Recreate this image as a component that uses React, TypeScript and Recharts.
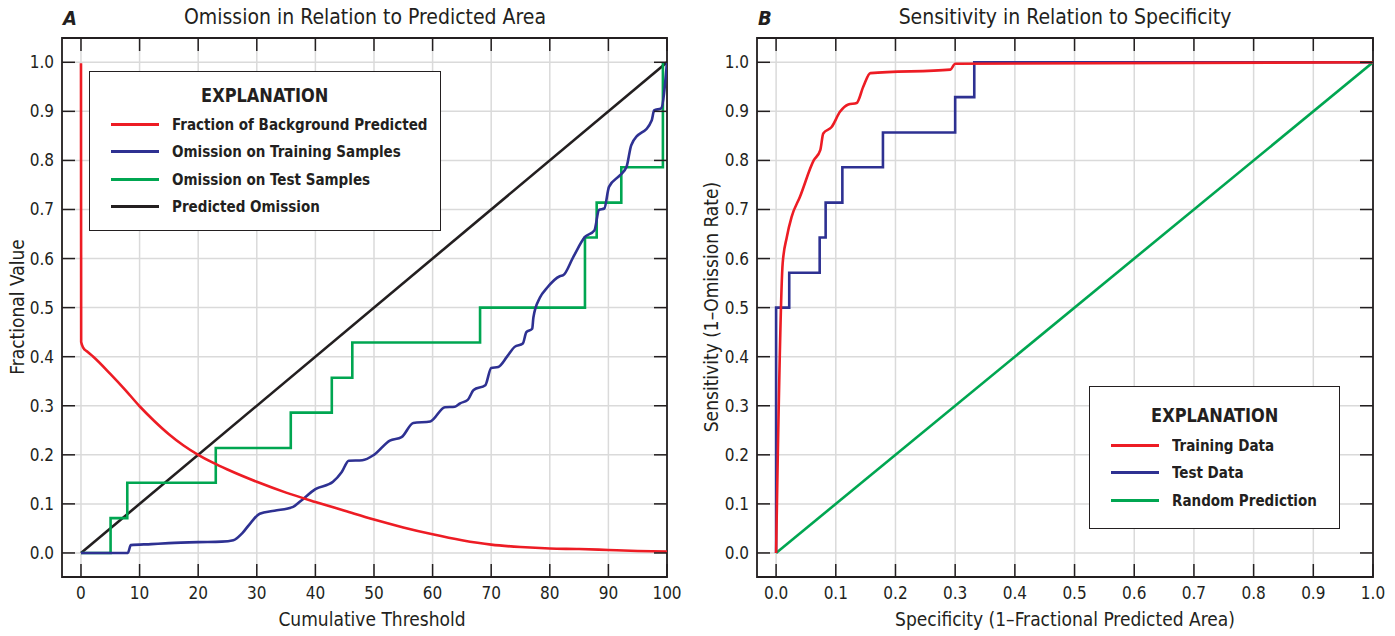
import React from 'react';
import { LineChart, Line, XAxis, YAxis, CartesianGrid, ReferenceArea } from 'recharts';

// Panel A: omission vs. cumulative threshold
const thresholdTicks = [0, 10, 20, 30, 40, 50, 60, 70, 80, 90, 100];
const fractionTicks = [0, 0.1, 0.2, 0.3, 0.4, 0.5, 0.6, 0.7, 0.8, 0.9, 1.0];

const backgroundPredicted: [number, number][] = [
  [0, 0.998], [0.03, 0.43], [0.4, 0.418], [1, 0.411], [2.1, 0.4], [5, 0.365],
  [7.5, 0.333], [10, 0.299], [12.5, 0.269], [15, 0.242], [17.5, 0.219], [20, 0.2],
  [22.5, 0.184], [25, 0.17], [30, 0.145], [35, 0.123], [40, 0.104], [45, 0.086],
  [50, 0.068], [55, 0.052], [60, 0.038], [65, 0.026], [70, 0.017], [75, 0.012],
  [80, 0.009], [85, 0.008], [90, 0.006], [95, 0.004], [100, 0.003],
];

const trainingOmission: [number, number][] = [
  [0, 0], [8, 0], [8.5, 0.016], [12, 0.018], [15, 0.02], [20, 0.022], [24, 0.023],
  [26, 0.026], [27.5, 0.04], [29, 0.062], [30.5, 0.08], [33, 0.086], [36.2, 0.094],
  [37.5, 0.106], [40, 0.13], [43, 0.145], [44.5, 0.165], [45.7, 0.188], [48, 0.189],
  [50, 0.2], [52.7, 0.229], [54.7, 0.236], [56.7, 0.265], [59.6, 0.268], [62.1, 0.297],
  [63.8, 0.298], [64.7, 0.305], [66, 0.312], [67, 0.332], [69, 0.342], [70, 0.377],
  [71.2, 0.379], [72.7, 0.4], [74, 0.42], [75.4, 0.427], [76, 0.45], [77, 0.457],
  [77.2, 0.48], [78.3, 0.52], [79.5, 0.54], [81.7, 0.564], [82.3, 0.566], [84, 0.603],
  [86, 0.644], [87.6, 0.657], [88.4, 0.699], [89.3, 0.702], [90.1, 0.746], [92, 0.77],
  [93.1, 0.787], [93.9, 0.831], [97.4, 0.882], [97.8, 0.902], [99, 0.906], [100, 1.0],
];

// step positions: value changes to y at x
const testOmission: [number, number][] = [
  [0, 0], [5.05, 0.071], [7.9, 0.143], [23, 0.214], [35.8, 0.286], [42.8, 0.357],
  [46.3, 0.429], [68.1, 0.5], [86, 0.643], [88, 0.714], [92.2, 0.786], [99.3, 1.0],
];

const predictedOmission: [number, number][] = [[0, 0], [100, 1]];

// Panel B: ROC
const specificityTicks = [0, 0.1, 0.2, 0.3, 0.4, 0.5, 0.6, 0.7, 0.8, 0.9, 1.0];

const trainingRoc: [number, number][] = [
  [0, 0], [0.011, 0.59], [0.018, 0.644], [0.026, 0.685], [0.04, 0.726], [0.063, 0.8],
  [0.074, 0.821], [0.079, 0.855], [0.093, 0.868], [0.107, 0.899], [0.121, 0.914],
  [0.135, 0.917], [0.146, 0.95], [0.158, 0.978], [0.292, 0.985], [0.3, 0.997], [1.0, 1.0],
];

const testRoc: [number, number][] = [
  [0, 0], [0, 0.5], [0.022, 0.571], [0.073, 0.643], [0.083, 0.714], [0.111, 0.786],
  [0.179, 0.857], [0.3, 0.929], [0.332, 1.0], [1.0, 1.0],
];

const randomRoc: [number, number][] = [[0, 0], [1, 1]];

const RED = '#ed1c24';
const BLUE = '#2e3192';
const GREEN = '#00a651';
const BLACK = '#231f20';
const GRID = '#dadada';
const INK = '#231f20';
const FONT = "'Liberation Sans Narrow', 'Arial Narrow', 'DejaVu Sans Condensed', sans-serif";

type Curve = 'monotone' | 'linear' | 'stepAfter';
type Series = { name: string; color: string; data: [number, number][]; curve: Curve };

const panelASeries: Series[] = [
  { name: 'Fraction of Background Predicted', color: RED, data: backgroundPredicted, curve: 'monotone' },
  { name: 'Omission on Training Samples', color: BLUE, data: trainingOmission, curve: 'monotone' },
  { name: 'Omission on Test Samples', color: GREEN, data: testOmission, curve: 'stepAfter' },
  { name: 'Predicted Omission', color: BLACK, data: predictedOmission, curve: 'linear' },
];
const panelADrawOrder = [3, 2, 1, 0];

const panelBSeries: Series[] = [
  { name: 'Training Data', color: RED, data: trainingRoc, curve: 'monotone' },
  { name: 'Test Data', color: BLUE, data: testRoc, curve: 'stepAfter' },
  { name: 'Random Prediction', color: GREEN, data: randomRoc, curve: 'linear' },
];
const panelBDrawOrder = [2, 1, 0];

const toPoints = (pairs: [number, number][]) => pairs.map(([x, y]) => ({ x, y }));

// chart geometry (plot area in chart coords)
const CH_W = 700;
const CH_H = 636;
const TOP = 38;
const BOTTOM = 577;
const TICK = 13;

type Geo = { left: number; right: number };

const makeXTick = (g: Geo, fmt: (v: number) => string) => (props: any) => {
  const { x, payload } = props;
  return (
    <g>
      <line x1={x} x2={x} y1={BOTTOM} y2={BOTTOM - TICK} stroke={INK} strokeWidth={1.5} />
      <line x1={x} x2={x} y1={TOP} y2={TOP + TICK} stroke={INK} strokeWidth={1.5} />
      <text x={x} y={BOTTOM + 16} textAnchor="middle" dominantBaseline="central"
        fontFamily={FONT} fontSize={17} fill={INK}>{fmt(payload.value)}</text>
    </g>
  );
};

const makeYTick = (g: Geo) => (props: any) => {
  const { y, payload } = props;
  return (
    <g>
      <line x1={g.left} x2={g.left + TICK} y1={y} y2={y} stroke={INK} strokeWidth={1.5} />
      <line x1={g.right - TICK} x2={g.right} y1={y} y2={y} stroke={INK} strokeWidth={1.5} />
      <text x={g.left - 8} y={y} textAnchor="end" dominantBaseline="central"
        fontFamily={FONT} fontSize={17} fill={INK}>{payload.value.toFixed(1)}</text>
    </g>
  );
};

const LegendBox: React.FC<{
  series: Series[]; style: React.CSSProperties; titleTop: number; titleGap: number;
}> = ({ series, style, titleTop, titleGap }) => (
  <div style={{
    position: 'absolute', background: '#fff', border: `1.5px solid ${INK}`, boxSizing: 'border-box',
    fontFamily: FONT, fontWeight: 700, color: INK, ...style,
  }}>
    <div style={{ textAlign: 'center', marginTop: titleTop, marginBottom: titleGap, height: 24 }}>
      <span style={{ display: 'inline-block', fontSize: 20, lineHeight: '24px', transform: 'scaleX(0.9)' }}>EXPLANATION</span>
    </div>
    {series.map((s) => (
      <div key={s.name} style={{ display: 'flex', alignItems: 'center', height: 27.5, paddingLeft: 21, whiteSpace: 'nowrap' }}>
        <span style={{ display: 'inline-block', flex: 'none', width: 48, height: 3, background: s.color, marginRight: 13 }} />
        <span style={{ display: 'inline-block', fontSize: 16.5, transform: 'scaleX(0.91)', transformOrigin: 'left center' }}>{s.name}</span>
      </div>
    ))}
  </div>
);

const textStyle: React.CSSProperties = { position: 'absolute', fontFamily: FONT, color: INK, whiteSpace: 'nowrap' };

const Panel: React.FC<{
  left: number; geo: Geo; xDomain: [number, number]; xTicks: number[]; series: Series[]; order: number[];
  fmtX: (v: number) => string;
}> = ({ left, geo, xDomain, xTicks, series, order, fmtX }) => (
  <div style={{ position: 'absolute', left, top: 0 }}>
    <LineChart width={CH_W} height={CH_H} margin={{ top: TOP, right: CH_W - geo.right, left: 0, bottom: 0 }}>
      <CartesianGrid stroke={GRID} strokeWidth={1.5} />
      <XAxis type="number" dataKey="x" domain={xDomain} ticks={xTicks} height={CH_H - BOTTOM}
        axisLine={false} tickLine={false} tick={makeXTick(geo, fmtX)} interval={0} allowDataOverflow />
      <YAxis type="number" domain={[-0.049, 1.0495]} ticks={fractionTicks} width={geo.left}
        axisLine={false} tickLine={false} tick={makeYTick(geo)} interval={0} allowDataOverflow />
      {order.map((i) => {
        const s = series[i];
        return (
          <Line key={s.name} data={toPoints(s.data)} dataKey="y" name={s.name} type={s.curve}
            stroke={s.color} strokeWidth={2.6} dot={false} activeDot={false} isAnimationActive={false} />
        );
      })}
      <ReferenceArea x1={xDomain[0]} x2={xDomain[1]} y1={-0.049} y2={1.0495} fill="none"
        stroke={INK} strokeWidth={1.8} ifOverflow="visible" />
    </LineChart>
  </div>
);

export default function App() {
  return (
    <div style={{ position: 'absolute', left: 0, top: 0, width: 1395, height: 636, background: '#fff', overflow: 'hidden' }}>
      <Panel left={0} geo={{ left: 62, right: 667 }} xDomain={[-3.24, 100]} xTicks={thresholdTicks}
        series={panelASeries} order={panelADrawOrder} fmtX={(v) => String(v)} />
      <Panel left={695} geo={{ left: 62, right: 678 }} xDomain={[-0.032, 1]} xTicks={specificityTicks}
        series={panelBSeries} order={panelBDrawOrder} fmtX={(v) => v.toFixed(1)} />

      <div style={{ ...textStyle, left: 63, top: 6, fontSize: 20, fontWeight: 700, fontStyle: 'italic' }}>A</div>
      <div style={{ ...textStyle, left: 365, top: 5, fontSize: 21, transform: 'translateX(-50%)' }}>Omission in Relation to Predicted Area</div>
      <div style={{ ...textStyle, left: 17, top: 307, fontSize: 19, transform: 'translate(-50%, -50%) rotate(-90deg)' }}>Fractional Value</div>
      <div style={{ ...textStyle, left: 372, top: 608, fontSize: 19, transform: 'translateX(-50%)' }}>Cumulative Threshold</div>

      <div style={{ ...textStyle, left: 758, top: 6, fontSize: 20, fontWeight: 700, fontStyle: 'italic' }}>B</div>
      <div style={{ ...textStyle, left: 1065, top: 5, fontSize: 21, transform: 'translateX(-50%)' }}>Sensitivity in Relation to Specificity</div>
      <div style={{ ...textStyle, left: 711, top: 307, fontSize: 19, transform: 'translate(-50%, -50%) rotate(-90deg)' }}>Sensitivity (1–Omission Rate)</div>
      <div style={{ ...textStyle, left: 1065, top: 608, fontSize: 19, transform: 'translateX(-50%)' }}>Specificity (1–Fractional Predicted Area)</div>

      <LegendBox series={panelASeries} titleTop={10.5} titleGap={4} style={{ left: 89, top: 71, width: 352, height: 160 }} />
      <LegendBox series={panelBSeries} titleTop={15.5} titleGap={5} style={{ left: 1089, top: 386, width: 251, height: 143 }} />
    </div>
  );
}
